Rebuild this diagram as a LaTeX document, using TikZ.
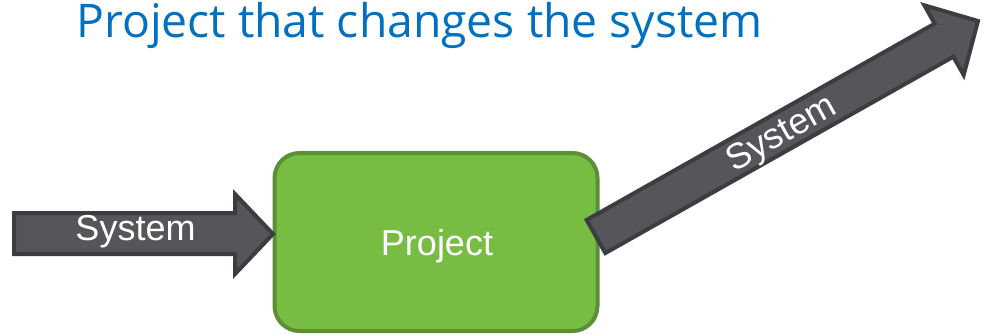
\documentclass[tikz,border=0pt]{standalone}
\usepackage{fontspec}
\setmainfont{Liberation Sans}
\newfontfamily\titlefont{Open Sans}
\definecolor{titleblue}{HTML}{0070C0}
\definecolor{arrowfill}{HTML}{55565A}
\definecolor{arrowline}{HTML}{3C3D41}
\definecolor{boxfill}{HTML}{77BC43}
\definecolor{boxline}{HTML}{5B8F35}
\begin{document}
\begin{tikzpicture}[x=1pt,y=-1pt,
  blockarrow/.style={fill=arrowfill,draw=arrowline,line width=4pt,line join=miter},
  projbox/.style={rectangle,rounded corners=25pt,fill=boxfill,draw=boxline,line width=4pt,
    minimum width=323pt,minimum height=178pt,inner sep=0pt},
  arrowtext/.style={text=white,font=\fontsize{36}{36}\selectfont,inner sep=0pt},
  boxtext/.style={text=white,font=\fontsize{36}{36}\selectfont,inner sep=0pt}]
\useasboundingbox (0,0) rectangle (992,333);
% title
\node[anchor=base west,inner sep=0pt,text=titleblue,font=\titlefont\fontsize{46.3}{46.3}\selectfont] (title) at (76,37) {Project that changes the system};
% project box
\node[projbox] (proj) at (436,242) {};
\node[boxtext] (projtext) at (437,246) {Project};
% left arrow
\draw[blockarrow] (14,213) -- (235,213) -- (235,194) -- (273,234) -- (235,274) -- (235,254) -- (14,254) -- cycle;
\node[arrowtext] (lsys) at (135.5,232) {System};
% right arrow
\begin{scope}[shift={(596,236.5)},rotate=29.43]
  \draw[blockarrow] (0,-19) -- (399.6,-19) -- (399.6,-40) -- (438.6,0) -- (399.6,40) -- (399.6,19) -- (0,19) -- cycle;
  \node[arrowtext,rotate=29.43] (rsys) at (212,3) {System};
\end{scope}
\end{tikzpicture}
\end{document}
